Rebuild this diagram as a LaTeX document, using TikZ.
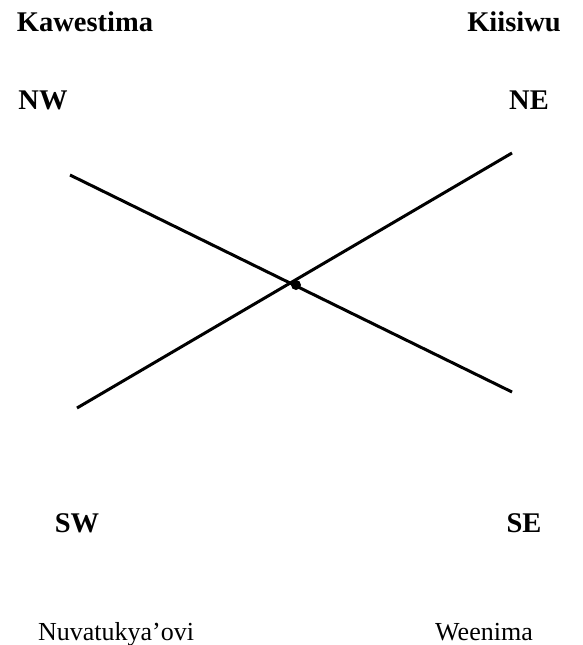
\documentclass[tikz,border=0pt]{standalone}
\usepackage{fontspec}
\setmainfont{Liberation Serif}
\begin{document}
\begin{tikzpicture}[x=1pt,y=-1pt,
  lbl/.style={inner sep=0pt,anchor=base,font=\fontsize{26}{30}\selectfont},
  blbl/.style={inner sep=0pt,font=\fontsize{28.5}{32}\selectfont\bfseries},
  ln/.style={line width=3pt}]
\useasboundingbox (0,0) rectangle (582,645);
\node[blbl] (kaw) at (85,22) {Kawestima};
\node[blbl] (kii) at (514,22) {Kiisiwu};
\node[blbl] (nw) at (43,100) {NW};
\node[blbl] (ne) at (529,100) {NE};
\node[blbl] (sw) at (77,523) {SW};
\node[blbl] (se) at (524,523) {SE};
\node[lbl] (nuv) at (116,640) {Nuvatukya’ovi};
\node[lbl] (wee) at (484,640) {Weenima};
\coordinate (a1) at (70,175);
\coordinate (a2) at (512,392);
\coordinate (b1) at (77,408);
\coordinate (b2) at (512,153);
\coordinate (c) at (296,285);
\draw[ln] (a1) -- (a2);
\draw[ln] (b1) -- (b2);
\fill (c) circle (5);
\end{tikzpicture}
\end{document}
